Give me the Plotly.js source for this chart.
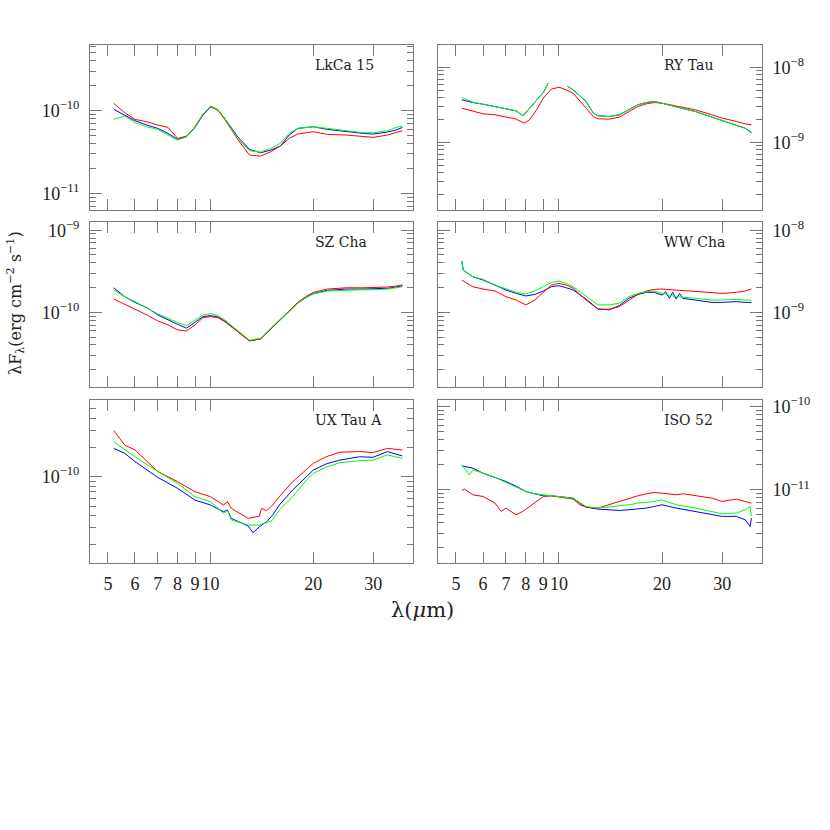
<!DOCTYPE html>
<html>
<head>
<meta charset="utf-8">
<script src="https://cdn.plot.ly/plotly-3.0.1.min.js"></script>
<style>
  body { margin: 0; background: #fff; }
  #plot { width: 830px; height: 830px; }
</style>
</head>
<body>
<div id="plot"></div>
<script>
// flux values are given in units of the panel's "unit" (erg cm-2 s-1)

// LkCa 15
const lkcaUnit = 1e-10;
const lkcaWave  = [5.2, 5.6, 6, 6.5, 7, 7.5, 8, 8.5, 9, 9.5, 10, 10.5, 11, 12, 13, 14, 15, 16, 17, 18, 20, 22, 25, 28, 30, 33, 35, 36.5];
const lkcaBlue  = [1.04, 0.886, 0.757, 0.671, 0.611, 0.532, 0.450, 0.485, 0.629, 0.886, 1.118, 1.019, 0.808, 0.485, 0.341, 0.310, 0.334, 0.374, 0.508, 0.611, 0.640, 0.594, 0.557, 0.532, 0.522, 0.552, 0.584, 0.629];
const lkcaRed   = [1.227, 0.946, 0.786, 0.736, 0.671, 0.629, 0.463, 0.494, 0.640, 0.911, 1.118, 1.019, 0.786, 0.450, 0.291, 0.283, 0.319, 0.374, 0.463, 0.522, 0.557, 0.517, 0.508, 0.485, 0.476, 0.508, 0.542, 0.573];
const lkcaGreen = [0.786, 0.862, 0.716, 0.640, 0.594, 0.508, 0.442, 0.485, 0.640, 0.911, 1.139, 1.038, 0.808, 0.463, 0.328, 0.316, 0.350, 0.403, 0.532, 0.611, 0.640, 0.611, 0.573, 0.542, 0.542, 0.573, 0.629, 0.653];

// RY Tau (blue and green have a gap between 9.3 and 10.6 um)
const ryUnit = 1e-9;
const ryWaveBG = [5.2, 5.6, 6, 6.5, 7, 7.5, 7.85, 8.2, 8.6, 9, 9.3, null, 10.6, 11, 12, 12.6, 13, 14, 15, 16, 17, 18, 19, 20, 22, 25, 28, 30, 33, 35, 36.5];
const ryBlue   = [3.71, 3.41, 3.24, 3.02, 2.87, 2.64, 2.27, 2.87, 3.63, 4.64, 6.18, null, 5.58, 5.04, 3.52, 2.46, 2.27, 2.22, 2.34, 2.73, 3.18, 3.41, 3.52, 3.34, 3.02, 2.59, 2.18, 1.96, 1.72, 1.55, 1.36];
const ryGreen  = [3.98, 3.45, 3.24, 3.02, 2.87, 2.64, 2.27, 2.87, 3.63, 4.64, 6.18, null, 5.58, 5.04, 3.52, 2.46, 2.27, 2.22, 2.34, 2.73, 3.18, 3.41, 3.52, 3.34, 3.02, 2.59, 2.18, 1.96, 1.72, 1.55, 1.33];
const ryWaveR  = [5.2, 5.6, 6, 6.5, 7, 7.5, 7.9, 8.2, 8.6, 9, 9.5, 10, 10.5, 11, 12, 12.6, 13, 14, 15, 16, 17, 18, 19, 20, 22, 25, 28, 30, 33, 35, 36.5];
const ryRed    = [2.87, 2.59, 2.41, 2.34, 2.18, 2.05, 1.81, 2.00, 2.72, 3.90, 5.14, 5.46, 5.04, 4.55, 2.87, 2.22, 2.07, 2.05, 2.18, 2.59, 3.02, 3.28, 3.41, 3.34, 3.08, 2.73, 2.34, 2.11, 1.91, 1.77, 1.72];

// SZ Cha
const szUnit = 1e-10;
const szWave  = [5.2, 5.6, 6, 6.5, 7, 7.5, 8, 8.5, 9, 9.5, 10, 10.5, 11, 12, 13, 14, 15, 16, 17, 18, 19, 20, 22, 25, 28, 30, 33, 35, 36.5];
const szBlue  = [1.99, 1.55, 1.32, 1.14, 0.929, 0.807, 0.715, 0.640, 0.756, 0.886, 0.911, 0.878, 0.785, 0.582, 0.449, 0.474, 0.628, 0.807, 1.02, 1.29, 1.51, 1.69, 1.85, 1.92, 1.92, 1.92, 1.96, 2.03, 2.11];
const szRed   = [1.45, 1.25, 1.10, 0.929, 0.785, 0.702, 0.610, 0.593, 0.702, 0.861, 0.886, 0.861, 0.770, 0.582, 0.449, 0.474, 0.628, 0.830, 1.07, 1.32, 1.55, 1.75, 1.92, 1.99, 1.99, 1.99, 2.03, 2.09, 2.15];
const szGreen = [1.87, 1.55, 1.35, 1.14, 0.955, 0.846, 0.749, 0.689, 0.807, 0.929, 0.964, 0.911, 0.807, 0.593, 0.457, 0.483, 0.640, 0.822, 1.02, 1.29, 1.51, 1.67, 1.82, 1.87, 1.88, 1.88, 1.92, 1.99, 2.05];

// WW Cha
const wwUnit = 1e-9;
const wwWave  = [5.2, 5.25, 5.6, 6, 6.5, 7, 7.5, 8, 8.5, 9, 9.5, 10, 10.5, 11, 12, 13, 14, 15, 16, 17, 18, 19, 20, 22, 25, 28, 30, 33, 35, 36.5];
const wwWaveB = [5.2, 5.25, 5.6, 6, 6.5, 7, 7.5, 8, 8.5, 9, 9.5, 10, 10.5, 11, 12, 13, 14, 15, 16, 17, 18, 19, 20, 20.5, 21, 21.5, 22, 22.5, 23, 25, 28, 30, 33, 35, 36.5];
const wwBlue  = [4.20, 3.27, 2.71, 2.47, 2.15, 1.87, 1.70, 1.58, 1.65, 1.82, 2.05, 2.11, 1.99, 1.87, 1.45, 1.10, 1.07, 1.21, 1.48, 1.65, 1.75, 1.75, 1.62, 1.78, 1.48, 1.75, 1.45, 1.70, 1.48, 1.41, 1.32, 1.32, 1.35, 1.32, 1.32];
const wwRed   = [2.47, 2.40, 2.05, 1.92, 1.82, 1.55, 1.41, 1.23, 1.41, 1.75, 2.15, 2.25, 2.15, 1.96, 1.41, 1.09, 1.09, 1.17, 1.41, 1.65, 1.82, 1.90, 1.92, 1.87, 1.82, 1.75, 1.70, 1.75, 1.82, 1.92];
const wwGreen = [4.12, 3.27, 2.71, 2.52, 2.15, 1.92, 1.75, 1.67, 1.82, 2.05, 2.31, 2.40, 2.25, 2.05, 1.55, 1.23, 1.23, 1.29, 1.55, 1.70, 1.78, 1.82, 1.70, 1.55, 1.48, 1.41, 1.41, 1.44, 1.41, 1.41];

// UX Tau A
const uxUnit = 1e-10;
const uxWave  = [5.2, 5.6, 6, 7, 8, 9, 10, 10.9, 11.2, 11.5, 12.9, 13.3, 13.9, 14.1, 14.6, 15.2, 15.9, 17.4, 19.1, 20, 21.8, 23.9, 27.3, 29.9, 33, 36.5];
const uxBlue  = [1.95, 1.74, 1.43, 0.984, 0.759, 0.575, 0.512, 0.437, 0.455, 0.373, 0.311, 0.266, 0.306, 0.319, 0.345, 0.404, 0.512, 0.730, 1.00, 1.17, 1.35, 1.48, 1.60, 1.58, 1.81, 1.63];
const uxRed   = [2.97, 2.11, 1.88, 1.13, 0.889, 0.701, 0.623, 0.512, 0.553, 0.473, 0.373, 0.379, 0.394, 0.473, 0.448, 0.512, 0.623, 0.889, 1.17, 1.37, 1.60, 1.78, 1.81, 1.77, 1.95, 1.88];
const uxGreen = [2.29, 1.91, 1.60, 1.13, 0.854, 0.623, 0.553, 0.420, 0.448, 0.359, 0.319, 0.319, 0.319, 0.326, 0.337, 0.359, 0.455, 0.623, 0.924, 1.08, 1.25, 1.39, 1.46, 1.48, 1.67, 1.54];

// ISO 52
const isoUnit = 1e-11;
const isoWaveB  = [5.2, 5.6, 6, 6.5, 7, 7.5, 8, 8.5, 9, 9.5, 10, 10.5, 11, 11.5, 12, 13, 14, 15, 16, 17, 18, 19, 20, 22, 25, 28, 30, 33, 35, 36.2, 36.5];
const isoBlue   = [1.94, 1.82, 1.58, 1.42, 1.26, 1.10, 0.955, 0.895, 0.847, 0.847, 0.832, 0.817, 0.794, 0.692, 0.619, 0.586, 0.575, 0.565, 0.575, 0.586, 0.603, 0.631, 0.661, 0.603, 0.550, 0.501, 0.479, 0.479, 0.437, 0.363, 0.457];
const isoWaveG  = [5.2, 5.47, 5.6, 6, 6.5, 7, 7.5, 8, 8.5, 9, 9.5, 10, 10.5, 11, 11.5, 12, 13, 14, 15, 16, 17, 18, 19, 20, 22, 25, 28, 30, 33, 35, 36.2, 36.5];
const isoGreen  = [2.00, 1.51, 1.74, 1.58, 1.42, 1.22, 1.08, 0.955, 0.895, 0.871, 0.847, 0.832, 0.817, 0.794, 0.705, 0.631, 0.603, 0.619, 0.643, 0.661, 0.692, 0.705, 0.724, 0.759, 0.661, 0.603, 0.550, 0.515, 0.525, 0.575, 0.631, 0.479];
const isoWaveR  = [5.2, 5.29, 5.6, 6, 6.5, 6.77, 7, 7.33, 7.49, 7.84, 8.2, 8.5, 9, 9.5, 10, 10.5, 11, 11.5, 12, 13, 14, 15, 16, 17, 18, 19, 20, 22, 23.1, 25, 28, 30, 33, 35, 36.5];
const isoRed    = [0.982, 1.02, 0.871, 0.832, 0.692, 0.550, 0.603, 0.535, 0.501, 0.550, 0.631, 0.705, 0.832, 0.847, 0.817, 0.794, 0.773, 0.661, 0.619, 0.603, 0.661, 0.724, 0.794, 0.847, 0.895, 0.929, 0.912, 0.871, 0.895, 0.847, 0.794, 0.724, 0.773, 0.724, 0.692];

// one entry per panel, left to right, top to bottom
const panels = [
    { name: 'LkCa 15', unit: lkcaUnit, yrange: [-11.2, -9.206], side: 'left',
      curves: [[lkcaWave, lkcaBlue, 'blue'], [lkcaWave, lkcaRed, 'red'], [lkcaWave, lkcaGreen, 'green']] },
    { name: 'RY Tau', unit: ryUnit, yrange: [-9.9, -7.70], side: 'right',
      curves: [[ryWaveBG, ryBlue, 'blue'], [ryWaveR, ryRed, 'red'], [ryWaveBG, ryGreen, 'green']] },
    { name: 'SZ Cha', unit: szUnit, yrange: [-10.91, -8.90], side: 'left',
      curves: [[szWave, szBlue, 'blue'], [szWave, szRed, 'red'], [szWave, szGreen, 'green']] },
    { name: 'WW Cha', unit: wwUnit, yrange: [-9.91, -7.90], side: 'right',
      curves: [[wwWaveB, wwBlue, 'blue'], [wwWave, wwRed, 'red'], [wwWave, wwGreen, 'green']] },
    { name: 'UX Tau A', unit: uxUnit, yrange: [-10.886, -9.213], side: 'left',
      curves: [[uxWave, uxBlue, 'blue'], [uxWave, uxRed, 'red'], [uxWave, uxGreen, 'green']] },
    { name: 'ISO 52', unit: isoUnit, yrange: [-11.88, -9.92], side: 'right',
      curves: [[isoWaveB, isoBlue, 'blue'], [isoWaveR, isoRed, 'red'], [isoWaveG, isoGreen, 'green']] }
];

const colors = { red: '#ff0000', blue: '#0000ff', green: '#00ff00' };
const xTicks = [5, 6, 7, 8, 9, 10, 20, 30];
const xRange = [Math.log10(4.43), Math.log10(39.2)];

// pixel boxes of the panels on the 830x830 page
const colX = [[90, 413], [438, 762]];
const rowY = [[45, 210], [222, 387], [400, 563]];
const W = 830, H = 830;
const frame = '#777';
const serif = 'Liberation Serif, DejaVu Serif, serif';
const wide = 'DejaVu Serif, serif';

const data = [];
const layout = {
    width: W, height: H,
    margin: { l: 0, r: 0, t: 0, b: 0 },
    paper_bgcolor: '#fff',
    plot_bgcolor: '#fff',
    showlegend: false,
    font: { family: serif, color: '#222' },
    annotations: []
};

function supMinus(n) {
    return '10<sup>\u2212' + Math.abs(n) + '</sup>';
}

panels.forEach((p, i) => {
    const n = i + 1;
    const xa = n === 1 ? 'x' : 'x' + n;
    const ya = n === 1 ? 'y' : 'y' + n;
    const col = i % 2, row = Math.floor(i / 2);

    p.curves.forEach(c => {
        data.push({
            x: c[0],
            y: c[1].map(v => v === null ? null : v * p.unit),
            xaxis: xa, yaxis: ya,
            type: 'scatter', mode: 'lines',
            line: { color: colors[c[2]], width: 1 },
            hoverinfo: 'skip'
        });
    });

    // decade ticks and minor ticks inside the range
    const lo = Math.floor(p.yrange[0]), hi = Math.ceil(p.yrange[1]);
    const major = [], majorText = [], minor = [];
    for (let d = lo; d <= hi; d++) {
        if (d >= p.yrange[0] && d <= p.yrange[1]) {
            major.push(Math.pow(10, d));
            majorText.push(supMinus(d));
        }
        for (let k = 2; k <= 9; k++) minor.push(k * Math.pow(10, d));
    }

    const bottom = row === 2;
    layout[xa === 'x' ? 'xaxis' : 'xaxis' + n] = {
        type: 'log',
        range: xRange,
        domain: [colX[col][0] / W, colX[col][1] / W],
        anchor: ya,
        tickmode: 'array',
        tickvals: xTicks,
        ticktext: xTicks.map(String),
        showticklabels: bottom,
        ticks: 'inside', ticklen: 11, tickwidth: 1, tickcolor: frame,
        mirror: 'allticks',
        showline: true, linecolor: frame, linewidth: 1,
        showgrid: false, zeroline: false,
        tickfont: { family: serif, size: 18, color: '#222' },
        ticklabelstandoff: 4
    };
    layout[ya === 'y' ? 'yaxis' : 'yaxis' + n] = {
        type: 'log',
        range: p.yrange,
        domain: [1 - rowY[row][1] / H, 1 - rowY[row][0] / H],
        anchor: xa,
        side: p.side,
        tickmode: 'array',
        tickvals: major,
        ticktext: majorText,
        ticks: 'inside', ticklen: 12, tickwidth: 1, tickcolor: frame,
        minor: { tickmode: 'array', tickvals: minor, ticks: 'inside', ticklen: 6, tickcolor: frame, showgrid: false },
        mirror: 'allticks',
        showline: true, linecolor: frame, linewidth: 1,
        showgrid: false, zeroline: false,
        tickfont: { family: serif, size: 18, color: '#222' },
        ticklabelstandoff: 6
    };

    layout.annotations.push({
        text: p.name,
        xref: xa, yref: ya + ' domain',
        x: Math.log10(20), y: 1,
        xanchor: 'left', yanchor: 'middle', yshift: -20,
        showarrow: false,
        font: { family: wide, size: 14, color: '#222' }
    });
});

// axis titles
layout.annotations.push({
    text: '\u03bbF<sub>\u03bb</sub>(erg cm<sup>\u22122</sup> s<sup>\u22121</sup>)',
    xref: 'paper', yref: 'paper',
    x: 15 / W, y: 1 - 303 / H,
    xanchor: 'center', yanchor: 'middle',
    textangle: -90, showarrow: false,
    font: { family: wide, size: 16, color: '#222' }
});
layout.annotations.push({
    text: '\u03bb(<i>\u03bc</i>m)',
    xref: 'paper', yref: 'paper',
    x: 423 / W, y: 1 - 610 / H,
    xanchor: 'center', yanchor: 'middle',
    showarrow: false,
    font: { family: wide, size: 21, color: '#222' }
});

Plotly.newPlot('plot', data, layout, { staticPlot: true });
</script>
</body>
</html>
